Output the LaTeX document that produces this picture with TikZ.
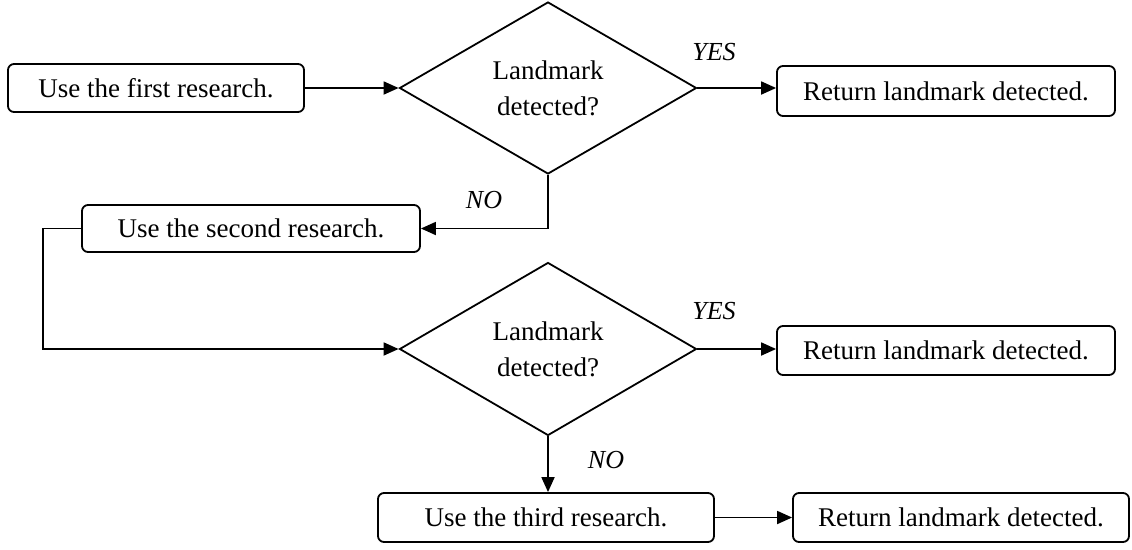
\documentclass[tikz,border=0pt]{standalone}
\usepackage{fontspec}
\setmainfont{Liberation Serif}
\usetikzlibrary{shapes.geometric,arrows.meta}
\begin{document}
\begin{tikzpicture}[x=1pt,y=-1pt,
  every node/.style={font=\fontsize{27}{36}\selectfont},
  procbox/.style={draw,rounded corners=6pt,line width=1.8pt,inner sep=0pt},
  decision/.style={draw,diamond,line width=1.8pt,inner sep=0pt,align=center},
  flow/.style={line width=1.8pt,-{Triangle[length=15pt,width=13pt]}},
  lbl/.style={font=\fontsize{26}{34}\selectfont\itshape}]
\useasboundingbox (0,0) rectangle (1132,549);

\node[procbox,minimum width=296pt,minimum height=48pt] (b1) at (156,88) {Use the first research.};
\node[decision,minimum width=297pt,minimum height=172pt] (d1) at (548,88) {Landmark\\detected?};
\node[procbox,minimum width=338pt,minimum height=50pt] (r1) at (946,91) {Return landmark detected.};
\node[procbox,minimum width=338pt,minimum height=47pt] (b2) at (251,228.5) {Use the second research.};
\node[decision,minimum width=297pt,minimum height=173pt] (d2) at (548,349) {Landmark\\detected?};
\node[procbox,minimum width=338pt,minimum height=49pt] (r2) at (946,350.5) {Return landmark detected.};
\node[procbox,minimum width=336pt,minimum height=49pt] (b3) at (546,517.5) {Use the third research.};
\node[procbox,minimum width=336pt,minimum height=49pt] (r3) at (961,517.5) {Return landmark detected.};

\node[lbl] (y1) at (714,52) {YES};
\node[lbl] (n1) at (484,200) {NO};
\node[lbl] (y2) at (714,311) {YES};
\node[lbl] (n2) at (606,460) {NO};

\coordinate (k1) at (43,228.5);

\draw[flow] (b1.east) -- (d1.west);
\draw[flow] (d1.east) -- (d1.east -| r1.west);
\draw[flow] (d1.south) |- (b2.east);
\draw[flow] (b2.west) -- (k1) |- (d2.west);
\draw[flow] (d2.east) -- (d2.east -| r2.west);
\draw[flow] (d2.south) -- (d2.south |- b3.north);
\draw[flow] (b3.east) -- (b3.east -| r3.west);
\end{tikzpicture}
\end{document}
